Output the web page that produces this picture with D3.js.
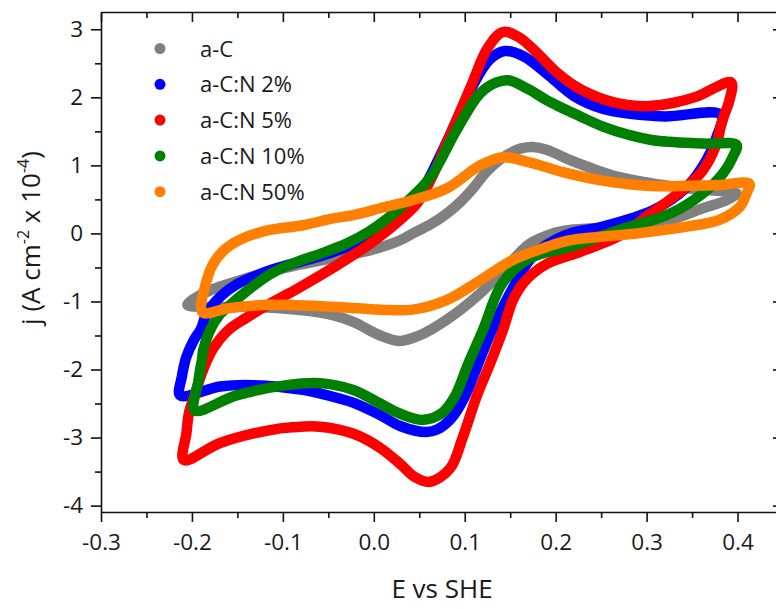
<!DOCTYPE html>
<html><head><meta charset="utf-8">
<script src="https://cdn.jsdelivr.net/npm/d3@7"></script>
<style>
body{margin:0;background:#fff}
svg{display:block}
text{font-family:"Open Sans",sans-serif;fill:#1a1a1a}
</style>
</head><body><svg id="c" width="776" height="609"></svg>
<script>
// ---- data ----
const seriesNames = ["a-C","a-C:N 2%","a-C:N 5%","a-C:N 10%","a-C:N 50%"];
const seriesColors = ["#808080","#0000ff","#ff0000","#008000","#ff8000"];

const xTicks = [-0.3,-0.2,-0.1,0.0,0.1,0.2,0.3,0.4];
const xTickLabels = ["-0.3","-0.2","-0.1","0.0","0.1","0.2","0.3","0.4"];
const xMinorTicks = [-0.25,-0.15,-0.05,0.05,0.15,0.25,0.35];
const yTicks = [-4,-3,-2,-1,0,1,2,3];
const yTickLabels = ["-4","-3","-2","-1","0","1","2","3"];
const yMinorTicks = [-3.5,-2.5,-1.5,-0.5,0.5,1.5,2.5];

// closed CV loops, [E (V vs SHE), j (A cm^-2 x 1e-4)]
const cvAC = [
 [-0.205,-1.05],[-0.19,-0.9],[-0.169,-0.78],[-0.14,-0.66],[-0.114,-0.56],[-0.085,-0.47],[-0.059,-0.4],
 [-0.03,-0.32],[-0.0045,-0.25],[0.029,-0.1],[0.043,0.0],[0.062,0.13],[0.08,0.29],[0.095,0.46],[0.109,0.66],
 [0.125,0.92],[0.146,1.15],[0.162,1.25],[0.175,1.27],[0.19,1.23],[0.212,1.1],[0.235,0.98],[0.263,0.85],
 [0.3,0.75],[0.33,0.69],[0.362,0.64],[0.399,0.59],[0.388,0.49],[0.362,0.37],[0.3255,0.2],[0.27,0.1],
 [0.2156,0.05],[0.197,0.0],[0.1716,-0.15],[0.146,-0.49],[0.117,-0.88],[0.08,-1.27],[0.05,-1.5],
 [0.029,-1.58],[0.007,-1.5],[-0.0226,-1.3],[-0.045,-1.2],[-0.078,-1.13],[-0.133,-1.08],[-0.1875,-1.08]
];
const cvN2 = [
 [-0.213,-2.38],[-0.211,-2.1],[-0.209,-1.96],[-0.206,-1.81],[-0.198,-1.57],[-0.19,-1.4],[-0.184,-1.18],
 [-0.168,-0.92],[-0.151,-0.75],[-0.12,-0.57],[-0.096,-0.47],[-0.06,-0.34],[-0.03,-0.2],[-0.005,-0.05],
 [0.015,0.14],[0.035,0.38],[0.055,0.68],[0.075,1.2],[0.093,1.72],[0.11,2.2],[0.127,2.55],[0.144,2.68],
 [0.165,2.6],[0.19,2.35],[0.22,2.02],[0.25,1.84],[0.28,1.76],[0.32,1.72],[0.382,1.74],[0.377,1.42],
 [0.366,1.08],[0.344,0.68],[0.307,0.34],[0.252,0.1],[0.216,0.0],[0.19,-0.17],[0.172,-0.38],[0.155,-0.75],
 [0.13,-1.42],[0.115,-1.91],[0.1,-2.4],[0.085,-2.72],[0.07,-2.88],[0.058,-2.92],[0.029,-2.83],
 [0.007,-2.67],[-0.02,-2.5],[-0.045,-2.4],[-0.078,-2.3],[-0.133,-2.23],[-0.169,-2.25]
];
const cvN5 = [
 [-0.209,-3.33],[-0.206,-2.93],[-0.203,-2.62],[-0.197,-2.38],[-0.189,-2.05],[-0.177,-1.7],[-0.16,-1.42],
 [-0.14,-1.24],[-0.114,-1.03],[-0.085,-0.82],[-0.059,-0.62],[-0.03,-0.38],[-0.004,-0.15],[0.029,0.2],
 [0.048,0.45],[0.063,0.8],[0.083,1.42],[0.1065,2.15],[0.125,2.72],[0.142,2.96],[0.16,2.88],[0.179,2.66],
 [0.2,2.38],[0.227,2.12],[0.263,1.93],[0.3,1.87],[0.33,1.92],[0.355,2.01],[0.393,2.22],[0.391,1.95],
 [0.386,1.76],[0.382,1.6],[0.377,1.32],[0.362,0.93],[0.345,0.7],[0.325,0.49],[0.3,0.25],[0.271,-0.03],
 [0.227,-0.27],[0.19,-0.45],[0.165,-0.72],[0.153,-0.98],[0.142,-1.42],[0.128,-1.91],[0.113,-2.4],
 [0.098,-2.99],[0.084,-3.45],[0.062,-3.65],[0.045,-3.58],[0.03,-3.4],[0.007,-3.15],[-0.023,-2.94],
 [-0.059,-2.84],[-0.09,-2.85],[-0.114,-2.89],[-0.169,-3.08]
];
const cvN10 = [
 [-0.197,-2.6],[-0.193,-2.18],[-0.191,-2.0],[-0.189,-1.86],[-0.1875,-1.71],[-0.18,-1.42],[-0.17,-1.2],
 [-0.158,-1.05],[-0.14,-0.85],[-0.114,-0.6],[-0.085,-0.42],[-0.059,-0.3],[-0.03,-0.15],[-0.005,0.03],
 [0.015,0.22],[0.035,0.45],[0.062,0.82],[0.091,1.52],[0.117,2.06],[0.135,2.22],[0.148,2.25],[0.17,2.12],
 [0.19,1.96],[0.227,1.72],[0.252,1.57],[0.28,1.45],[0.307,1.37],[0.362,1.32],[0.399,1.3],[0.395,1.13],
 [0.384,0.88],[0.362,0.59],[0.3255,0.29],[0.27,0.05],[0.2156,-0.2],[0.172,-0.36],[0.142,-0.72],
 [0.12,-1.42],[0.104,-1.91],[0.089,-2.4],[0.075,-2.64],[0.0545,-2.74],[0.029,-2.65],[0.007,-2.5],
 [-0.0226,-2.3],[-0.059,-2.2],[-0.096,-2.23],[-0.151,-2.38]
];
const cvN50 = [
 [-0.19,-1.08],[-0.186,-0.8],[-0.178,-0.48],[-0.165,-0.25],[-0.145,-0.08],[-0.118,0.04],[-0.078,0.12],
 [-0.045,0.22],[-0.0226,0.27],[0.007,0.37],[0.043,0.49],[0.08,0.66],[0.117,1.0],[0.142,1.12],[0.172,1.04],
 [0.208,0.9],[0.25,0.78],[0.3,0.7],[0.35,0.7],[0.38,0.71],[0.413,0.73],[0.41,0.59],[0.4025,0.39],
 [0.38,0.2],[0.344,0.1],[0.289,0.0],[0.2156,-0.1],[0.19,-0.2],[0.153,-0.39],[0.117,-0.69],[0.08,-0.98],
 [0.043,-1.12],[0.007,-1.12],[-0.041,-1.08],[-0.114,-1.05],[-0.16,-1.1],[-0.1875,-1.17]
];
const cvData = [cvAC, cvN2, cvN5, cvN10, cvN50];

// ---- chart ----
const svg = d3.select("#c");
const x = d3.scaleLinear().domain([-0.3,0.45]).range([101,783]);
const y = d3.scaleLinear().domain([-4.094,3.254]).range([512,12]);

const line = d3.line().x(d=>x(d[0])).y(d=>y(d[1])).curve(d3.curveCatmullRomClosed.alpha(0.5));

const plot = svg.append("g");
cvData.forEach((pts,i)=>{
  plot.append("path").attr("d", line(pts))
    .attr("fill","none").attr("stroke",seriesColors[i])
    .attr("stroke-width",10.5).attr("stroke-linejoin","round").attr("stroke-linecap","round");
});

function styleAxis(g){
  g.selectAll("path.domain").attr("stroke","#111").attr("stroke-width",1.6);
  g.selectAll(".tick line").attr("stroke","#111").attr("stroke-width",1.6);
  g.selectAll(".tick text").style("font-family","'Open Sans',sans-serif").style("font-size","22.5px").attr("fill","#1a1a1a");
}
// bottom
svg.append("g").attr("transform","translate(0,512)")
  .call(d3.axisBottom(x).tickValues(xTicks).tickFormat((d,i)=>xTickLabels[i]).tickSize(10).tickSizeOuter(0).tickPadding(12))
  .call(styleAxis);
svg.append("g").attr("transform","translate(0,512)")
  .call(d3.axisBottom(x).tickValues(xMinorTicks).tickFormat("").tickSize(6).tickSizeOuter(0))
  .call(g=>g.select(".domain").remove()).call(styleAxis);
// top (ticks inward)
svg.append("g").attr("transform","translate(0,12)")
  .call(d3.axisBottom(x).tickValues(xTicks).tickFormat("").tickSize(10).tickSizeOuter(0))
  .call(styleAxis);
svg.append("g").attr("transform","translate(0,12)")
  .call(d3.axisBottom(x).tickValues(xMinorTicks).tickFormat("").tickSize(6).tickSizeOuter(0))
  .call(g=>g.select(".domain").remove()).call(styleAxis);
// left
svg.append("g").attr("transform","translate(101,0)")
  .call(d3.axisLeft(y).tickValues(yTicks).tickFormat((d,i)=>yTickLabels[i]).tickSize(10).tickSizeOuter(0).tickPadding(8))
  .call(styleAxis);
svg.append("g").attr("transform","translate(101,0)")
  .call(d3.axisLeft(y).tickValues(yMinorTicks).tickFormat("").tickSize(6).tickSizeOuter(0))
  .call(g=>g.select(".domain").remove()).call(styleAxis);
// right (ticks inward)
svg.append("g").attr("transform","translate(783,0)")
  .call(d3.axisLeft(y).tickValues(yTicks).tickFormat("").tickSize(10).tickSizeOuter(0))
  .call(styleAxis);
svg.append("g").attr("transform","translate(783,0)")
  .call(d3.axisLeft(y).tickValues(yMinorTicks).tickFormat("").tickSize(6).tickSizeOuter(0))
  .call(g=>g.select(".domain").remove()).call(styleAxis);

// axis titles
svg.append("text").attr("x",442).attr("y",598).attr("text-anchor","middle")
  .style("font-size","26px").text("E vs SHE");
const yt = svg.append("text").attr("transform","translate(40,238) rotate(-90)")
  .attr("text-anchor","middle").style("font-size","26px");
yt.append("tspan").text("j (A cm");
yt.append("tspan").attr("dy",-11).style("font-size","16px").text("-2");
yt.append("tspan").attr("dy",11).text(" x 10");
yt.append("tspan").attr("dy",-11).style("font-size","16px").text("-4");
yt.append("tspan").attr("dy",11).text(")");

// legend
const leg = svg.append("g");
seriesNames.forEach((n,i)=>{
  const yy = 48.5 + i*35.8;
  leg.append("circle").attr("cx",160).attr("cy",yy).attr("r",5.5).attr("fill",seriesColors[i]);
  leg.append("text").attr("x",200).attr("y",yy+8).style("font-size","22px").text(n);
});
</script></body></html>
